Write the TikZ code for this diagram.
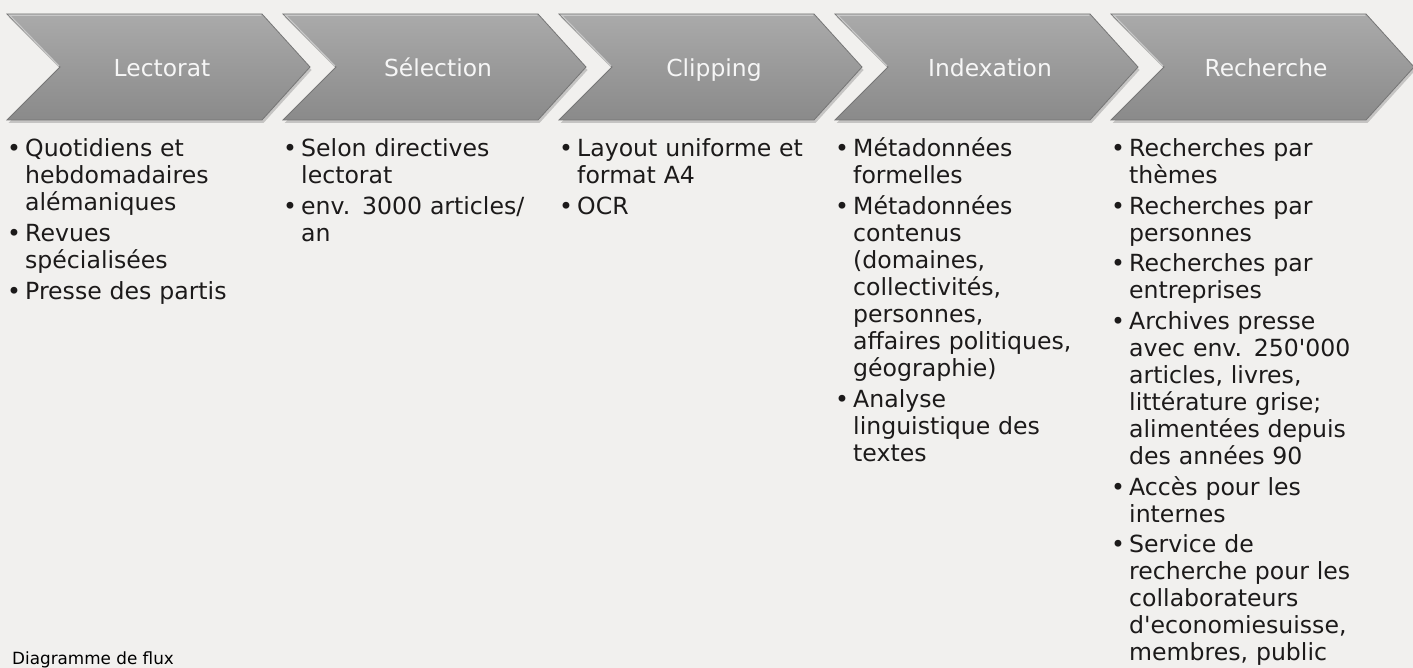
\documentclass[tikz,border=0pt]{standalone}
\usepackage{fontspec}
\setmainfont{DejaVu Sans}
\definecolor{bgcol}{RGB}{241,240,238}
\definecolor{facetop}{RGB}{170,170,170}
\definecolor{facebot}{RGB}{138,138,138}
\definecolor{edgecol}{RGB}{118,118,118}
\definecolor{hilite}{RGB}{200,200,200}
\definecolor{labelcol}{RGB}{246,246,246}
\definecolor{textcol}{RGB}{28,26,26}
\tikzset{
  chevlabel/.style={text=labelcol, font=\fontsize{23.4}{27}\selectfont, inner sep=0pt, anchor=base},
  listtext/.style={text=textcol, font=\fontsize{23.6}{27}\selectfont, inner sep=0pt, anchor=base west, text width=270pt, align=left},
  bulletmark/.style={text=textcol, font=\fontsize{23.6}{27}\selectfont, inner sep=0pt, anchor=base},
  captiontext/.style={text=black, font=\fontsize{16.8}{20}\selectfont, inner sep=0pt, anchor=base west},
}
\newcommand\listentry[4]{%
  \node[bulletmark] (#1b) at (#2-11,#3) {•};
  \node[listtext] (#1) at (#2,#3) {#4};
}
\begin{document}
\begin{tikzpicture}[x=1pt,y=-1pt]
\useasboundingbox (0,0) rectangle (1413,668);
\clip (0,0) rectangle (1413,668);
\fill[bgcol] (0,0) rectangle (1413,668);

% chevrons
\foreach \i/\lab in {0/Lectorat,1/Sélection,2/Clipping,3/Indexation,4/Recherche}{
  \pgfmathsetmacro\xo{7+276*\i}
  \fill[black, opacity=0.18] (\xo+1.5,17) -- ++(255,0) -- ++(48,53) -- ++(-48,53) -- ++(-255,0) -- ++(53,-53) -- cycle;
  \shade[top color=facetop, bottom color=facebot, draw=edgecol, line width=0.8pt]
    (\xo,14) -- ++(255,0) -- ++(48,53) -- ++(-48,53) -- ++(-255,0) -- ++(53,-53) -- cycle;
  \draw[hilite, line width=1.2pt, line cap=round] (\xo+52,66) -- (\xo+2.5,15.3) -- (\xo+254,15.3);
  \node[chevlabel] (lab\i) at (\xo+155,77) {\lab};
}

% column 1
\listentry{a1}{25}{157}{Quotidiens et\\hebdomadaires\\alémaniques}
\listentry{a2}{25}{241.5}{Revues\\spécialisées}
\listentry{a3}{25}{299}{Presse des partis}

% column 2
\listentry{b1}{301}{157}{Selon directives\\lectorat}
\listentry{b2}{301}{214.5}{env. 3000 articles/\\an}

% column 3
\listentry{c1}{577}{157}{Layout uniforme et\\format A4}
\listentry{c2}{577}{214.5}{OCR}

% column 4
\listentry{d1}{853}{157}{Métadonnées\\formelles}
\listentry{d2}{853}{214.5}{Métadonnées\\contenus\\(domaines,\\collectivités,\\personnes,\\affaires politiques,\\géographie)}
\listentry{d3}{853}{407}{Analyse\\linguistique des\\textes}

% column 5
\listentry{e1}{1129}{157}{Recherches par\\thèmes}
\listentry{e2}{1129}{214.5}{Recherches par\\personnes}
\listentry{e3}{1129}{272}{Recherches par\\entreprises}
\listentry{e4}{1129}{329.5}{Archives presse\\avec env. 250\textquotesingle 000\\articles, livres,\\littérature grise;\\alimentées depuis\\des années 90}
\listentry{e5}{1129}{495}{Accès pour les\\internes}
\listentry{e6}{1129}{552.5}{Service de\\recherche pour les\\collaborateurs\\d\textquotesingle economiesuisse,\\membres, public}

% caption
\node[captiontext] (caption) at (12,664) {Diagramme de flux};
\end{tikzpicture}
\end{document}
